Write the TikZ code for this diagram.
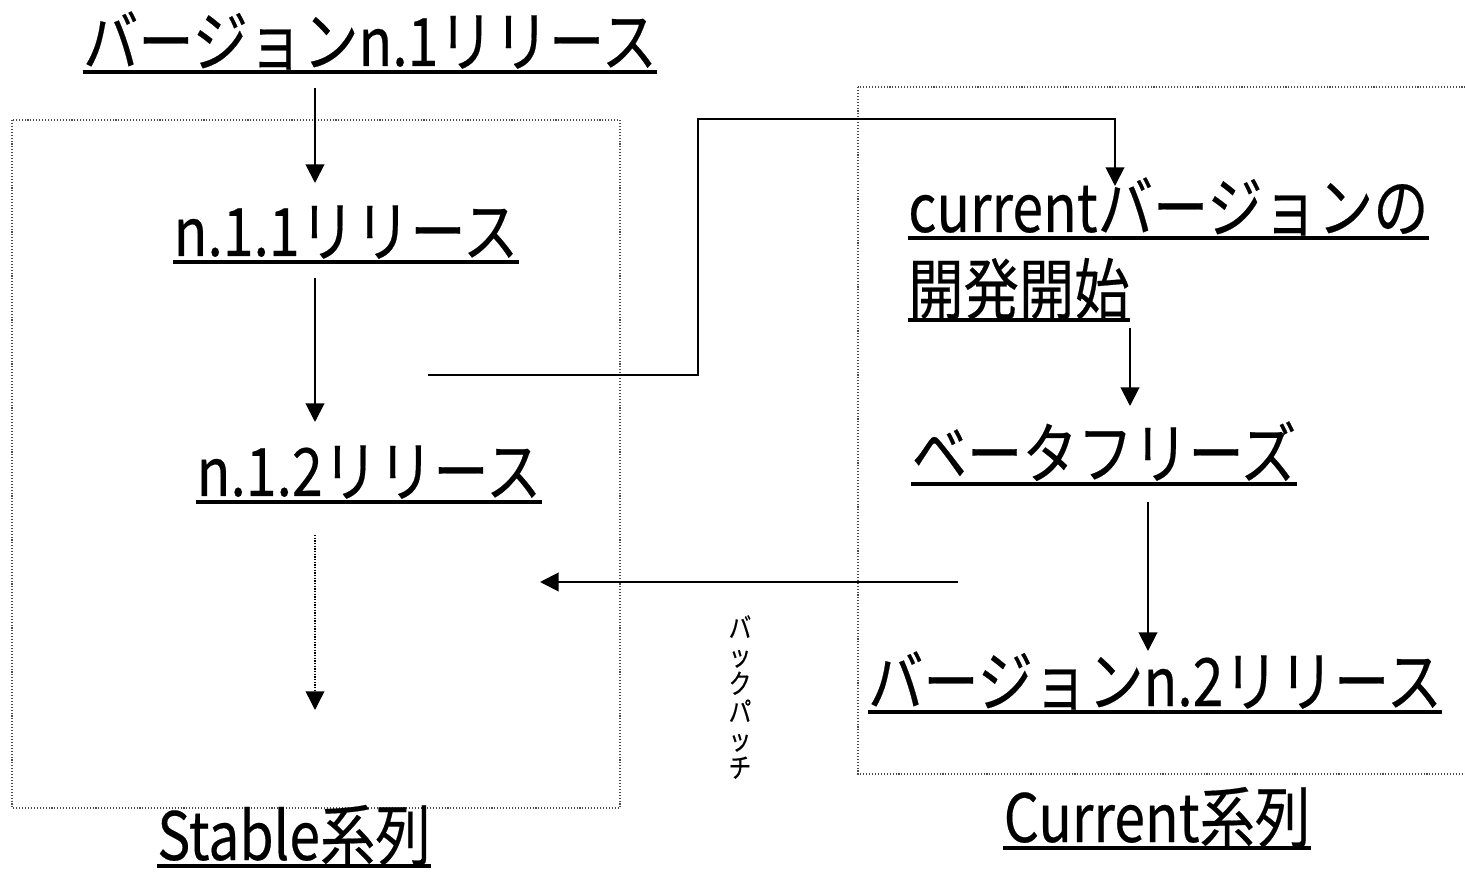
\documentclass[tikz,border=0pt]{standalone}
\usepackage{fontspec}
\setmainfont{Noto Sans CJK JP}[FakeStretch=0.83, FakeBold=0.3]
\usetikzlibrary{arrows.meta}
\tikzset{
  lbl/.style={inner sep=0pt, anchor=base, font=\fontsize{50pt}{56pt}\selectfont},
  lblw/.style={lbl, anchor=base west},
  ul/.style={line width=3pt},
  arr/.style={line width=1.5pt, -{Triangle[length=14pt,width=14pt]}},
  dotarr/.style={line width=1.1pt, dash pattern=on 1.1pt off 0.9pt, -{Triangle[length=14pt,width=14pt]}},
  grp/.style={line width=0.8pt, dash pattern=on 0.8pt off 1.4pt, gray!60!black},
}
\begin{document}
\begin{tikzpicture}[x=0.75pt,y=-0.75pt]
\useasboundingbox[fill=white] (0,0) rectangle (1465,873);
% group boxes
\draw[grp] (12,120) rectangle (620,808);
\draw[grp] (858,87) rectangle (1475,774);
% labels
\node[lbl] (t1) at (370,66) {バージョンn.1リリース};
\node[lbl] (s1) at (346,256) {n.1.1リリース};
\node[lbl] (s2) at (369,496) {n.1.2リリース};
\node[lbl] (stab) at (294,860) {Stable系列};
\node[lblw] (c1) at (908,232) {currentバージョンの};
\node[lblw] (c2) at (908,314) {開発開始};
\node[lbl] (beta) at (1104,478) {ベータフリーズ};
\node[lbl] (r2) at (1155,706) {バージョンn.2リリース};
\node[lbl] (cur) at (1157,842) {Current系列};
\node[inner sep=0pt, align=center, font=\fontsize{20.5pt}{21pt}\selectfont] (bp) at (740,697) {バ\\ッ\\ク\\パ\\ッ\\チ};
% underlines
\foreach \n in {t1,s1,s2,stab,c1,c2,beta,r2,cur}{
  \draw[ul] ([yshift=-4.5pt]\n.base west) -- ([yshift=-4.5pt]\n.base east);
}
% connector end points
\coordinate (a1s) at (315,88);   \coordinate (a1e) at (315,183);
\coordinate (a2s) at (315,278);  \coordinate (a2e) at (315,422);
\coordinate (a3s) at (315,535);  \coordinate (a3e) at (315,710);
\coordinate (bs) at (428,375);   \coordinate (bk1) at (698,375);
\coordinate (bk2) at (698,119);  \coordinate (bk3) at (1115,119);
\coordinate (be) at (1115,186);
\coordinate (a4s) at (1130,328); \coordinate (a4e) at (1130,406);
\coordinate (a5s) at (1148,502); \coordinate (a5e) at (1148,651);
\coordinate (ps) at (958,582);   \coordinate (pe) at (540,582);
% connectors
\draw[arr] (a1s) -- (a1e);
\draw[arr] (a2s) -- (a2e);
\draw[dotarr] (a3s) -- (a3e);
\draw[arr] (bs) -- (bk1) -- (bk2) -- (bk3) -- (be);
\draw[arr] (a4s) -- (a4e);
\draw[arr] (a5s) -- (a5e);
\draw[arr] (ps) -- (pe);
\end{tikzpicture}
\end{document}
